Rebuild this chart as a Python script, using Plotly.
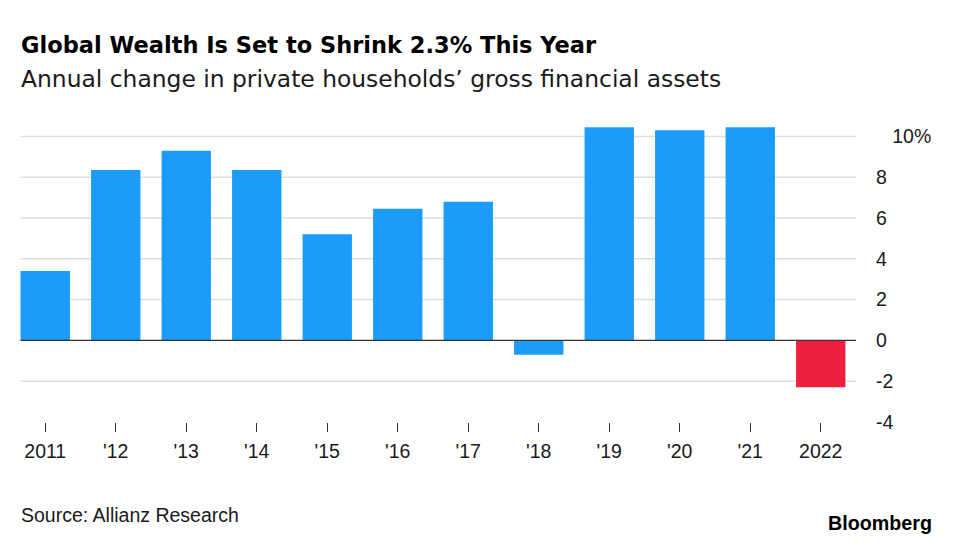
import plotly.graph_objects as go

# Data
years = ["2011", "'12", "'13", "'14", "'15", "'16", "'17", "'18", "'19", "'20", "'21", "2022"]
values = [3.4, 8.35, 9.3, 8.35, 5.2, 6.45, 6.8, -0.7, 10.45, 10.3, 10.45, -2.3]
bar_colors = ["#1b9cfb"] * 11 + ["#ec1f3e"]
ytick_vals = [-4, -2, 0, 2, 4, 6, 8, 10]
ytick_text = ["-4", "-2", "0", "2", "4", "6", "8", "\u00a0\u00a0\u00a010%"]
grid_vals = [-2, 2, 4, 6, 8, 10]

FONT = "Liberation Sans, Arial, Helvetica, sans-serif"
HEAD_FONT = "DejaVu Sans, Liberation Sans, sans-serif"

fig = go.Figure()
fig.add_trace(go.Bar(x=years, y=values, marker=dict(color=bar_colors, line=dict(width=0)),
                     hoverinfo="x+y"))

shapes = []
for v in grid_vals:
    shapes.append(dict(type="line", xref="x", yref="y", x0=-0.35, x1=11.62, y0=v, y1=v,
                       line=dict(color="#dedede", width=1.5), layer="below"))
# short stub of the -4 gridline
shapes.append(dict(type="line", xref="x", yref="y", x0=11.52, x1=11.62, y0=-4, y1=-4,
                   line=dict(color="#dedede", width=1.5), layer="below"))
# zero line
shapes.append(dict(type="line", xref="x", yref="y", x0=-0.35, x1=11.5, y0=0, y1=0,
                   line=dict(color="#333333", width=1.2), layer="above"))

annotations = [
    dict(text="<b>Global Wealth Is Set to Shrink 2.3% This Year</b>", xref="paper", yref="paper",
         x=0.011, y=1.232, xanchor="left", yanchor="middle", showarrow=False,
         font=dict(family=HEAD_FONT, size=22.5, color="#000000")),
    dict(text="Annual change in private households\u2019 gross financial assets", xref="paper", yref="paper",
         x=0.011, y=1.122, xanchor="left", yanchor="middle", showarrow=False,
         font=dict(family=HEAD_FONT, size=23.4, color="#1a1a1a")),
    dict(text="Source: Allianz Research", xref="paper", yref="paper",
         x=0.011, y=-0.303, xanchor="left", yanchor="middle", showarrow=False,
         font=dict(family=FONT, size=19.5, color="#1a1a1a")),
    dict(text="<b>Bloomberg</b>", xref="paper", yref="paper",
         x=1.0917, y=-0.33, xanchor="right", yanchor="middle", showarrow=False,
         font=dict(family=FONT, size=19.7, color="#000000")),
]

fig.update_layout(
    width=963, height=547,
    margin=dict(l=2, r=115, t=108, b=133),
    paper_bgcolor="#ffffff", plot_bgcolor="#ffffff",
    bargap=0.3,
    showlegend=False,
    shapes=shapes,
    annotations=annotations,
    font=dict(family=FONT, size=19.5, color="#1a1a1a"),
    xaxis=dict(type="category", categoryorder="array", categoryarray=years,
               range=[-0.5, 11.5], showgrid=False, zeroline=False, showline=False,
               ticks="outside", ticklen=9, tickwidth=1.2, tickcolor="#333333",
               ticklabelstandoff=3,
               tickfont=dict(family=FONT, size=19.5, color="#1a1a1a"), fixedrange=True),
    yaxis=dict(side="right", range=[-4, 11], tickvals=ytick_vals, ticktext=ytick_text,
               showgrid=False, zeroline=False, showline=False, ticks="",
               ticklabelstandoff=19,
               tickfont=dict(family=FONT, size=19.5, color="#1a1a1a"), fixedrange=True),
)

fig.write_html("out.html")
